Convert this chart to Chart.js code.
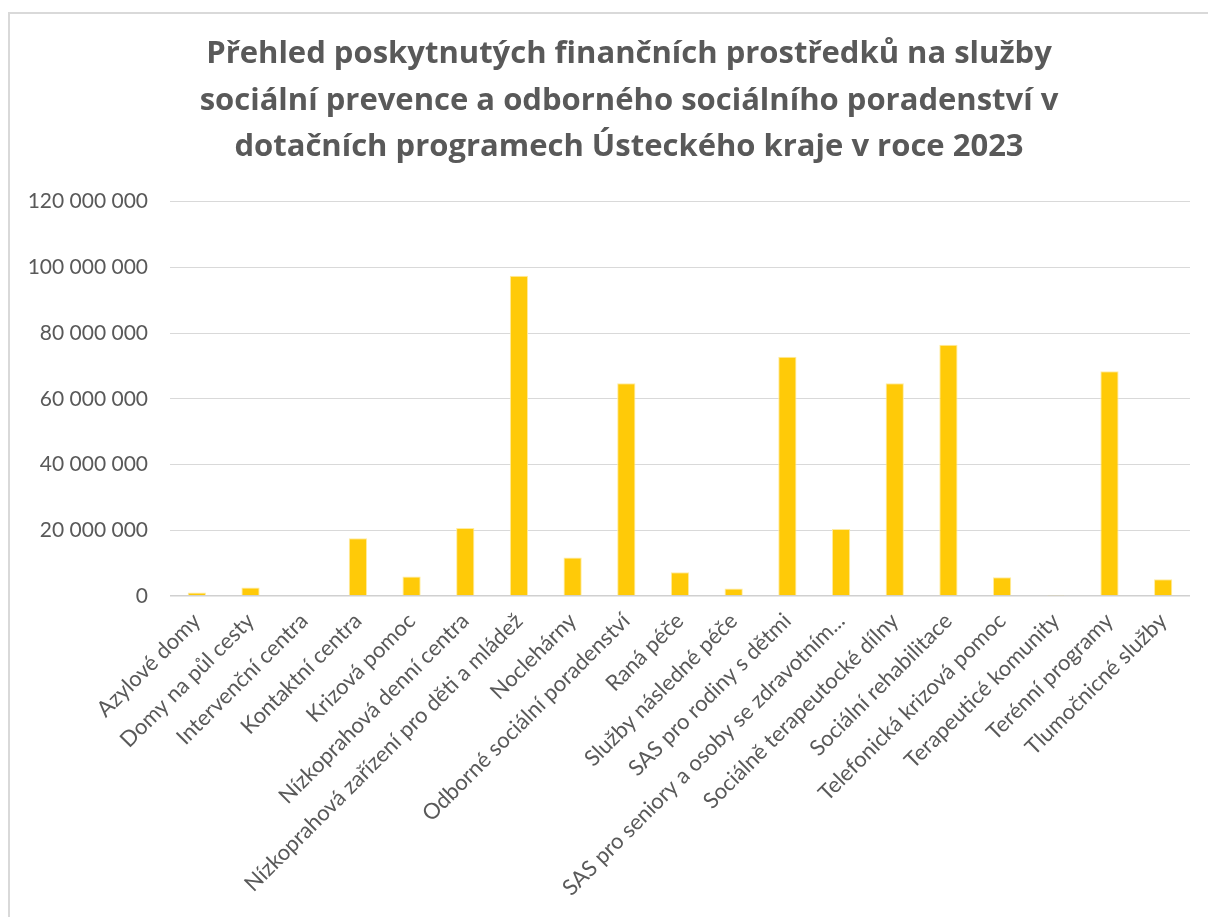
<!DOCTYPE html>
<html lang="cs">
<head>
<meta charset="utf-8">
<title>Přehled poskytnutých finančních prostředků 2023</title>
<script src="https://cdn.jsdelivr.net/npm/chart.js@4.4.1/dist/chart.umd.min.js"></script>
<style>
    html, body { margin: 0; padding: 0; background: #fff; overflow: hidden; }
    #frame {
        position: absolute; left: 8px; top: 12px;
        width: 1250px; height: 920px;
        border-left: 2px solid #d9d9d9;
        border-top: 2px solid #d9d9d9;
    }
    #wrap { position: absolute; left: 0; top: 0; width: 1258px; height: 917px; }
</style>
</head>
<body>
<div id="frame"></div>
<div id="wrap"><canvas id="chart"></canvas></div>
<script>
const titleLines = [
    'Přehled poskytnutých finančních prostředků na služby',
    'sociální prevence a odborného sociálního poradenství v',
    'dotačních programech Ústeckého kraje v roce 2023'
]

const categories = [
    'Azylové domy',
    'Domy na půl cesty',
    'Intervenční centra',
    'Kontaktní centra',
    'Krizová pomoc',
    'Nízkoprahová denní centra',
    'Nízkoprahová zařízení pro děti a mládež',
    'Noclehárny',
    'Odborné sociální poradenství',
    'Raná péče',
    'Služby následné péče',
    'SAS pro rodiny s dětmi',
    'SAS pro seniory a osoby se zdravotním...',
    'Sociálně terapeutocké dílny',
    'Sociální rehabilitace',
    'Telefonická krizová pomoc',
    'Terapeuticé komunity',
    'Terénní programy',
    'Tlumočnicné služby'
]

const amounts = [
    1100000, 2600000, 0, 17600000, 5900000, 20700000, 97400000,
    11700000, 64700000, 7200000, 2300000, 72800000, 20400000,
    64700000, 76400000, 5700000, 150000, 68400000, 5100000
]

const yMax = 120000000
const yStep = 20000000

const FONT = 'Lato, "Open Sans", sans-serif'
const TITLE_FONT = '"Open Sans", Lato, sans-serif'
const TEXT = '#595959'

function spaced(v) {
    return String(v).replace(/\B(?=(\d{3})+(?!\d))/g, ' ')
}

// the original chart is wider than the crop, so its title sits right of the plot centre
const shiftTitle = {
    id: 'shiftTitle',
    afterLayout(chart) {
        const t = chart.titleBlock
        if (!t) return
        t.left += 23
        t.right += 23
    }
}

new Chart(document.getElementById('chart'), {
    type: 'bar',
    data: {
        labels: categories,
        datasets: [{
            data: amounts,
            backgroundColor: 'rgb(255, 202, 8)',
            borderColor: 'rgba(255, 236, 160, 1)',
            borderWidth: 1,
            categoryPercentage: 1,
            barPercentage: 0.34
        }]
    },
    plugins: [shiftTitle],
    options: {
        responsive: true,
        maintainAspectRatio: false,
        animation: false,
        layout: { padding: { left: 22, right: 68, top: 31, bottom: 0 } },
        plugins: {
            legend: { display: false },
            tooltip: { enabled: false },
            title: {
                display: true,
                text: titleLines,
                color: TEXT,
                font: { family: TITLE_FONT, size: 31, weight: 'bold', lineHeight: 1.5 },
                padding: { top: 0, bottom: 31 }
            }
        },
        scales: {
            x: {
                grid: { display: false },
                border: { display: false },
                afterFit: scale => { scale.height = 321 },
                ticks: {
                    color: TEXT,
                    font: { family: FONT, size: 22 },
                    minRotation: 45,
                    maxRotation: 45,
                    autoSkip: false,
                    padding: 4
                }
            },
            y: {
                min: 0,
                max: yMax,
                border: { display: false },
                afterFit: scale => { scale.width = 148 },
                grid: {
                    drawTicks: false,
                    color: ctx => ctx.tick && ctx.tick.value === 0 ? '#d0d0d0' : '#d9d9d9',
                    lineWidth: ctx => ctx.tick && ctx.tick.value === 0 ? 1.5 : 1
                },
                ticks: {
                    stepSize: yStep,
                    color: TEXT,
                    font: { family: FONT, size: 21 },
                    padding: 22,
                    callback: v => spaced(v)
                }
            }
        }
    }
})
</script>
</body>
</html>
